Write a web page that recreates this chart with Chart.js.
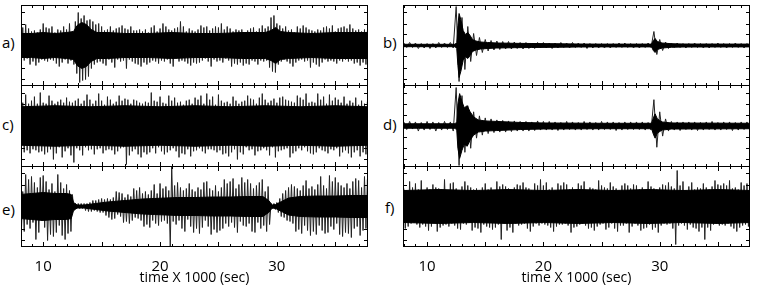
<!DOCTYPE html>
<html>
<head>
<meta charset="utf-8">
<script src="https://cdn.jsdelivr.net/npm/chart.js@4.4.1/dist/chart.umd.min.js"></script>
<style>
  body { margin: 0; background: #fff; }
  #fig { position: relative; width: 757px; height: 286px; font-family: "Open Sans", sans-serif; }
  .panel { position: absolute; }
  .lbl { position: absolute; font-size: 15px; line-height: 1; color: #000; }
</style>
</head>
<body>
<div id="fig">
  <div class="lbl" style="left:2px;top:35px">a)</div>
  <div class="lbl" style="left:2px;top:117px">c)</div>
  <div class="lbl" style="left:2px;top:202px">e)</div>
  <div class="lbl" style="left:383px;top:35px">b)</div>
  <div class="lbl" style="left:383px;top:117px">d)</div>
  <div class="lbl" style="left:385px;top:200px">f)</div>

  <div class="panel" style="left:21px;top:5px"><canvas id="pa" width="347" height="81"></canvas></div>
  <div class="panel" style="left:21px;top:85px"><canvas id="pc" width="347" height="82"></canvas></div>
  <div class="panel" style="left:21px;top:166px"><canvas id="pe" width="347" height="120"></canvas></div>
  <div class="panel" style="left:403px;top:5px"><canvas id="pb" width="347" height="81"></canvas></div>
  <div class="panel" style="left:403px;top:85px"><canvas id="pd" width="347" height="82"></canvas></div>
  <div class="panel" style="left:403px;top:166px"><canvas id="pf" width="347" height="120"></canvas></div>
</div>
<script>
// time axis (x 1000 sec)
const X_LABELS = [10, 20, 30];
const Y_TICKS = [-33, -22, -11, 0, 11, 22, 33];

// trace extremes are sampled from t = 8.0, sign alternates up / down
const SPIKE_T0 = 8.0;
const FINE_DT = 0.125;   // noisy traces a, c, e, f
const COARSE_DT = 0.25;  // quiet traces b, d

// a) envelope of the dense core + trace extremes
const aCoreT = [8.0, 9, 10, 11, 12, 12.6, 12.9, 13.3, 13.7, 14.1, 14.6, 15.5, 17, 19, 21, 23, 25, 27, 29, 29.5, 29.9, 30.3, 31, 33, 35, 37.8];
const aCore  = [12, 12, 13, 12, 13, 14, 20, 23, 21, 16, 13, 13, 12, 12, 13, 12, 12, 13, 13, 15, 18, 14, 13, 12, 13, 13];
const aSpikes = [
  16, 14, 18, 15, 21, 13, 17, 19, 14, 16, 15, 20, 13, 17, 16, 14, 22, 15, 18, 16,
  17, 14, 19, 15, 13, 18, 16, 21, 15, 17, 19, 14, 16, 18, 22, 15, 14, 19, 24, 28,
  33, 37, 27, 35, 30, 34, 25, 31, 26, 23, 24, 19, 21, 17, 22, 16, 19, 18, 15, 20,
  16, 14, 19, 17, 15, 22, 17, 14, 18, 16, 20, 15, 17, 23, 16, 14, 19, 16, 15, 18,
  15, 19, 16, 21, 14, 17, 16, 19, 13, 17, 18, 15, 20, 16, 14, 18, 17, 15, 22, 16,
  19, 14, 16, 18, 15, 21, 17, 13, 18, 16, 24, 15, 19, 16, 14, 18, 17, 20, 15, 17,
  14, 18, 16, 17, 20, 15, 18, 13, 19, 16, 15, 21, 17, 14, 19, 16, 18, 15, 22, 17,
  16, 13, 19, 15, 17, 21, 14, 18, 16, 19, 15, 17, 16, 20, 13, 18, 15, 19, 17, 15,
  18, 16, 14, 19, 17, 15, 20, 16, 17, 15, 19, 22, 28, 26, 30, 27, 22, 19, 20, 16,
  17, 14, 19, 16, 15, 18, 16, 21, 13, 17, 19, 15, 17, 14, 20, 16, 18, 15, 16, 22,
  15, 17, 14, 19, 16, 21, 15, 17, 18, 14, 19, 16, 17, 15, 20, 16, 14, 18, 17, 15,
  18, 16, 19, 14, 17, 16, 21, 15, 17, 18, 15, 17, 16, 20, 14, 17, 16, 19, 15, 17
];

// c)
const cCoreT = [8, 11, 14, 17, 20, 23, 26, 29, 32, 35, 37.8];
const cCore  = [19, 20, 19, 20, 19, 20, 19, 20, 19, 20, 19];
const cSpikes = [
  25, 28, 23, 26, 31, 24, 22, 27, 25, 23, 29, 24, 22, 26, 33, 25, 23, 28, 22, 26,
  30, 23, 25, 33, 22, 27, 24, 21, 26, 31, 23, 25, 28, 22, 24, 29, 23, 36, 25, 22,
  27, 24, 22, 29, 25, 21, 31, 24, 26, 23, 22, 28, 25, 23, 32, 22, 25, 27, 21, 24,
  29, 23, 26, 24, 22, 28, 24, 25, 30, 22, 25, 21, 27, 38, 26, 29, 22, 25, 26, 23,
  25, 28, 23, 31, 22, 26, 24, 28, 23, 26, 33, 22, 25, 27, 24, 21, 29, 25, 23, 28,
  22, 26, 30, 24, 25, 22, 28, 25, 23, 31, 24, 27, 21, 28, 25, 23, 26, 30, 22, 25,
  28, 24, 26, 22, 30, 25, 22, 27, 32, 23, 26, 23, 29, 24, 21, 26, 31, 24, 25, 28,
  23, 27, 24, 30, 22, 26, 29, 23, 25, 33, 22, 26, 24, 28, 25, 21, 30, 24, 27, 23,
  26, 29, 22, 25, 28, 24, 32, 22, 26, 24, 23, 29, 25, 21, 27, 31, 23, 25, 28, 24,
  29, 23, 26, 22, 25, 31, 24, 27, 23, 25, 30, 22, 28, 24, 26, 21, 32, 25, 23, 27,
  24, 28, 23, 26, 32, 22, 26, 24, 29, 25, 22, 27, 31, 23, 25, 24, 28, 22, 26, 30,
  23, 26, 29, 24, 22, 27, 25, 31, 23, 26, 28, 24, 21, 30, 25, 26, 22, 28, 24, 27
];

// e)
const eCoreT = [8, 9, 10, 11, 12, 12.4, 12.6, 12.9, 13.5, 14.5, 15.5, 16.5, 17.5, 18.5, 19.5, 20.5, 21.5, 23, 24.5, 26, 27.5, 28.8, 29.3, 29.6, 29.9, 30.4, 31, 32, 33.5, 35, 36.5, 37.8];
const eCore  = [12, 13, 14, 13, 13, 12, 4, 1.5, 1.5, 3, 4.5, 5.5, 6.5, 7.5, 8, 8.5, 9, 9, 9.5, 9.5, 10, 10, 6, 1.5, 2, 5, 8.5, 10, 10.5, 10.5, 11, 11];
const eSpikes = [
  20, 28, 15, 25, 32, 18, 27, 22, 30, 16, 24, 33, 19, 26, 29, 14, 31, 21, 25, 34,
  17, 28, 23, 30, 15, 26, 32, 19, 24, 29, 18, 33, 22, 27, 16, 25, 12, 4, 3, 2,
  3, 2, 3, 2, 3, 4, 3, 5, 4, 5, 6, 4, 6, 5, 7, 6, 8, 6, 7, 9,
  8, 11, 7, 13, 9, 12, 15, 8, 14, 10, 13, 16, 9, 15, 12, 17, 10, 14, 18, 11,
  16, 12, 19, 14, 13, 20, 15, 18, 12, 21, 16, 14, 22, 17, 13, 19, 23, 15, 18, 14,
  20, 17, 16, 40, 40, 15, 21, 18, 24, 14, 19, 22, 16, 25, 18, 13, 23, 20, 17, 26,
  15, 22, 19, 27, 17, 21, 24, 14, 25, 20, 18, 28, 16, 23, 21, 26, 15, 24, 19, 22,
  27, 17, 23, 20, 25, 16, 28, 21, 18, 26, 22, 15, 29, 19, 24, 20, 27, 17, 23, 25,
  18, 26, 21, 16, 24, 22, 27, 19, 15, 25, 20, 18, 3, 2, 3, 3, 4, 6, 8, 10,
  13, 11, 16, 14, 19, 15, 22, 17, 20, 25, 18, 23, 16, 27, 21, 19, 26, 24, 18, 29,
  20, 25, 17, 28, 22, 19, 30, 24, 21, 27, 18, 26, 31, 20, 25, 23, 29, 17, 24, 28,
  21, 30, 19, 26, 23, 27, 18, 31, 25, 22, 28, 20, 26, 29, 19, 24, 30, 22, 27, 25
];

// b)
const bCoreT = [7.9, 12.4, 12.55, 12.65, 12.75, 12.9, 13.1, 13.3, 13.5, 13.7, 13.9, 14.2, 14.6, 15.2, 16, 17.5, 19, 21, 23, 25, 29.3, 29.45, 29.6, 29.8, 30.2, 31, 32, 37.8];
const bCore  = [1.2, 1.2, 3, 20, 32, 26, 15, 11, 13, 10, 6, 4.5, 3.5, 3, 2.5, 2.2, 2, 1.8, 1.5, 1.4, 1.4, 5, 7, 4, 2.5, 1.8, 1.5, 1.4];
const bSpikes = [
  2.5, 2, 3, 2, 2.5, 3, 2, 2.5, 2, 3,
  2, 2.5, 3, 2, 2.5, 2, 3, 2.5, 39, 36,
  28, 24, 19, 16, 12, 10, 8, 7, 6, 5.5,
  5, 4.5, 4.5, 4, 4, 3.5, 4, 3.5, 3.5, 3,
  3, 3.5, 3, 3, 2.5, 3, 3, 2.5, 3, 2.5,
  2.5, 3, 2.5, 2.5, 3, 2, 2.5, 2.5, 3, 2,
  2.5, 2, 2.5, 3, 2, 2.5, 2, 2.5, 2, 2.5,
  2, 2.5, 2, 2, 2.5, 2, 2.5, 2, 2, 2.5,
  2, 2.5, 2, 2, 2.5, 2, 14, 9, 6, 5,
  3.5, 3, 2.5, 2, 2.5, 2, 2, 2.5, 2, 2,
  2.5, 2, 2, 2.5, 2, 2.5, 2, 2, 2.5, 2,
  2, 2.5, 2, 2, 2.5, 2, 2, 2.5, 2, 2
];

// d)
const dCoreT = [7.9, 12.4, 12.55, 12.65, 12.8, 13.0, 13.2, 13.45, 13.7, 14.0, 14.4, 15, 16, 18, 20, 25, 29.3, 29.45, 29.6, 29.8, 30.2, 31, 37.8];
const dCore  = [2.2, 2.2, 4, 22, 32, 24, 18, 20, 14, 9, 6, 5, 4.5, 3.5, 3, 2.7, 2.7, 8, 12, 7, 4, 3, 2.7];
const dSpikes = [
  4, 3.5, 4.5, 3, 4, 5, 3.5, 4, 4.5, 3.5,
  4, 5, 3.5, 4, 4.5, 3.5, 4, 5, 38, 39,
  30, 26, 20, 22, 14, 12, 10, 9, 8, 7.5,
  7, 6.5, 6, 6, 5.5, 6, 5, 5.5, 5, 5,
  4.5, 5, 4.5, 5, 4, 4.5, 5, 4, 4.5, 4,
  4.5, 4, 4, 4.5, 3.5, 4, 4.5, 3.5, 4, 4,
  3.5, 4, 4.5, 3.5, 4, 4, 3.5, 4, 4.5, 3.5,
  4, 3.5, 4, 4.5, 3.5, 4, 4, 3.5, 4, 3.5,
  4, 3.5, 4, 4, 3.5, 4, 26, 21, 14, 10,
  7, 5, 4.5, 4, 4, 4.5, 4, 3.5, 4, 4,
  4, 4.5, 3.5, 4, 4, 3.5, 4.5, 4, 3.5, 4,
  4, 3.5, 4, 4.5, 3.5, 4, 4, 3.5, 4, 4
];

// f)
const fCoreT = [8, 11, 14, 17, 20, 23, 26, 29, 32, 35, 37.8];
const fCore  = [16, 17, 16, 17, 16, 17, 16, 17, 16, 17, 16];
const fSpikes = [
  18, 22, 16, 20, 25, 17, 19, 16, 23, 18, 17, 21, 26, 18, 16, 20, 19, 24, 17, 20,
  22, 16, 19, 25, 18, 21, 17, 19, 27, 18, 16, 20, 23, 17, 24, 19, 18, 22, 16, 23,
  20, 17, 25, 18, 21, 16, 19, 24, 17, 21, 18, 22, 16, 26, 19, 18, 23, 20, 17, 21,
  19, 23, 16, 21, 25, 18, 20, 33, 22, 17, 20, 24, 18, 21, 16, 26, 19, 17, 22, 19,
  21, 18, 24, 17, 19, 22, 18, 25, 16, 20, 23, 17, 21, 19, 27, 17, 21, 18, 24, 19,
  17, 21, 19, 25, 16, 20, 23, 18, 21, 18, 24, 17, 22, 19, 17, 26, 19, 21, 16, 20,
  23, 18, 21, 17, 25, 19, 16, 22, 19, 21, 18, 24, 17, 20, 26, 18, 21, 17, 19, 23,
  18, 21, 24, 17, 20, 22, 18, 25, 16, 19, 21, 19, 23, 17, 21, 26, 18, 20, 22, 17,
  21, 19, 17, 24, 19, 22, 16, 21, 25, 18, 20, 23, 18, 21, 17, 26, 19, 19, 22, 17,
  21, 18, 24, 17, 20, 22, 18, 38, 36, 19, 21, 17, 25, 19, 16, 23, 20, 18, 24, 21,
  17, 22, 19, 25, 18, 21, 23, 33, 19, 21, 17, 24, 20, 18, 26, 17, 22, 19, 21, 18,
  23, 19, 21, 17, 26, 20, 18, 22, 19, 25, 17, 21, 24, 19, 21, 18, 23, 20, 22, 19
];

Chart.defaults.font.family = "'Open Sans', sans-serif";
Chart.defaults.color = '#000';

// box + inward tick marks on all four sides
const frame = {
  id: 'frame',
  afterDatasetsDraw(chart) {
    const { ctx, chartArea: a, scales: { x, y } } = chart;
    ctx.save();
    ctx.strokeStyle = '#000';
    ctx.lineWidth = 1;
    ctx.strokeRect(a.left + 0.5, a.top + 0.5, a.right - a.left - 1, a.bottom - a.top - 1);
    ctx.beginPath();
    for (let t = Math.ceil(x.min); t <= x.max; t++) {
      const px = Math.round(x.getPixelForValue(t)) + 0.5;
      const len = t % 5 === 0 ? 5 : 3;
      ctx.moveTo(px, a.top); ctx.lineTo(px, a.top + len);
      ctx.moveTo(px, a.bottom); ctx.lineTo(px, a.bottom - len);
    }
    Y_TICKS.forEach(v => {
      const py = Math.round(y.getPixelForValue(v)) + 0.5;
      ctx.moveTo(a.left, py); ctx.lineTo(a.left + 4, py);
      ctx.moveTo(a.right, py); ctx.lineTo(a.right - 4, py);
    });
    ctx.stroke();
    ctx.restore();
  }
};

function panel(id, coreT, core, spikes, dt, xmin, xmax, bottom) {
  const upper = coreT.map((t, i) => ({ x: t, y: core[i] }));
  const lower = coreT.map((t, i) => ({ x: t, y: -core[i] }));
  const trace = spikes.map((v, i) => ({ x: SPIKE_T0 + i * dt, y: i % 2 ? -v : v }));
  const xScale = {
    type: 'linear',
    min: xmin,
    max: xmax,
    display: bottom,
    grid: { display: false },
    border: { display: false },
    afterBuildTicks: s => { s.ticks = X_LABELS.map(v => ({ value: v })); },
    ticks: { font: { size: 15 }, padding: 3, autoSkip: false, maxRotation: 0 },
    title: { display: true, text: 'time X 1000 (sec)', font: { size: 14 }, padding: 0 }
  };
  if (bottom) xScale.afterFit = s => { s.height = 39; };
  new Chart(document.getElementById(id), {
    type: 'line',
    data: {
      datasets: [
        { data: upper, borderColor: '#000', backgroundColor: '#000', borderWidth: 1, pointRadius: 0, fill: '+1' },
        { data: lower, borderColor: '#000', borderWidth: 1, pointRadius: 0, fill: false },
        { data: trace, borderColor: '#222', borderWidth: 1, pointRadius: 0, fill: false }
      ]
    },
    options: {
      responsive: false,
      animation: false,
      layout: { padding: 0 },
      plugins: { legend: { display: false }, tooltip: { enabled: false } },
      scales: {
        x: xScale,
        y: { min: -40.5, max: 40.5, display: false }
      }
    },
    plugins: [frame]
  });
}

panel('pa', aCoreT, aCore, aSpikes, FINE_DT, 8.1, 37.8, false);
panel('pc', cCoreT, cCore, cSpikes, FINE_DT, 8.1, 37.8, false);
panel('pe', eCoreT, eCore, eSpikes, FINE_DT, 8.1, 37.8, true);
panel('pb', bCoreT, bCore, bSpikes, COARSE_DT, 7.93, 37.76, false);
panel('pd', dCoreT, dCore, dSpikes, COARSE_DT, 7.93, 37.76, false);
panel('pf', fCoreT, fCore, fSpikes, FINE_DT, 7.93, 37.76, true);
</script>
</body>
</html>
